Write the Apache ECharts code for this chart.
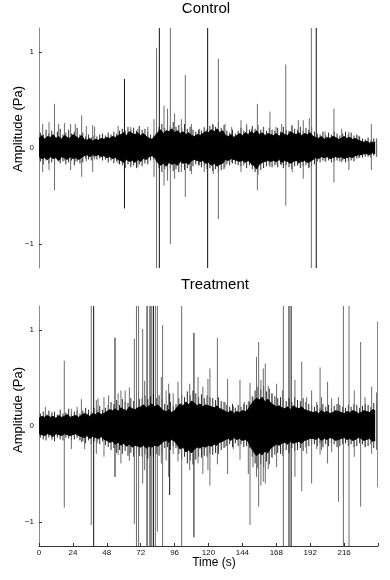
<!DOCTYPE html>
<html>
<head>
<meta charset="utf-8">
<script src="https://cdn.jsdelivr.net/npm/echarts@6/dist/echarts.min.js"></script>
<style>
html,body{margin:0;padding:0;background:#fff;}
#chart{width:390px;height:580px;}
</style>
</head>
<body>
<div id="chart"></div>
<script>
// ---------- DATA ----------
const panelTitles = ['Control', 'Treatment'];
const xTickLabels = [0, 24, 48, 72, 96, 120, 144, 168, 192, 216];
const yTickLabels = [-1, 0, 1];
// envelope bins, every 2 s (0..238); fringe samples sit 1 s after each bin
const binTimes = [0,2,4,6,8,10,12,14,16,18,20,22,24,26,28,30,32,34,36,38,40,42,44,46,48,50,52,54,56,58,60,62,64,66,68,70,72,74,76,78,80,82,84,86,88,90,92,94,96,98,100,102,104,106,108,110,112,114,116,118,120,122,124,126,128,130,132,134,136,138,140,142,144,146,148,150,152,154,156,158,160,162,164,166,168,170,172,174,176,178,180,182,184,186,188,190,192,194,196,198,200,202,204,206,208,210,212,214,216,218,220,222,224,226,228,230,232,234,236,238];

const controlUpper = [
 0.10,0.13,0.09,0.12,0.11,0.14,0.10,0.12,0.09,0.13,0.11,0.10,0.14,0.12,0.10,0.13,
 0.09,0.08,0.10,0.07,0.09,0.08,
 0.10,0.09,0.11,0.10,0.12,0.11,0.13,
 0.14,0.16,0.13,0.17,0.15,0.14,0.16,0.13,0.15,0.12,
 0.10,0.09,0.12,
 0.16,0.19,0.15,0.18,0.17,0.20,0.16,0.18,0.15,0.17,0.14,0.16,0.13,
 0.12,0.14,0.13,0.15,0.17,0.16,
 0.19,0.17,0.20,0.16,0.18,
 0.13,0.12,0.14,0.11,0.13,
 0.15,0.13,0.16,0.14,0.17,0.15,0.18,0.14,0.16,0.13,0.15,0.14,
 0.13,0.15,0.12,0.16,0.14,0.13,0.17,0.15,0.14,0.16,0.13,0.15,0.14,0.16,0.12,
 0.11,0.10,0.12,0.09,0.11,0.10,0.12,0.11,0.09,0.10,0.12,0.10,0.11,0.09,0.10,0.08,
 0.07,0.06,0.07,0.05,0.06,0.06];
const controlLower = [
 -0.09,-0.11,-0.10,-0.12,-0.09,-0.11,-0.10,-0.13,-0.09,-0.10,-0.12,-0.09,-0.11,-0.10,-0.12,-0.10,
 -0.08,-0.07,-0.09,-0.07,-0.08,-0.07,
 -0.09,-0.08,-0.10,-0.09,-0.11,-0.10,-0.12,
 -0.13,-0.15,-0.12,-0.14,-0.13,-0.15,-0.12,-0.14,-0.11,-0.12,
 -0.09,-0.08,-0.10,
 -0.15,-0.18,-0.16,-0.19,-0.15,-0.17,-0.16,-0.18,-0.14,-0.16,-0.15,-0.17,-0.13,
 -0.12,-0.13,-0.14,-0.13,-0.16,-0.15,
 -0.18,-0.16,-0.19,-0.17,-0.16,
 -0.12,-0.13,-0.11,-0.12,-0.13,
 -0.14,-0.13,-0.15,-0.13,-0.16,-0.18,-0.22,-0.17,-0.15,-0.14,-0.13,-0.14,
 -0.13,-0.14,-0.12,-0.15,-0.13,-0.14,-0.16,-0.14,-0.13,-0.15,-0.14,-0.13,-0.15,-0.14,-0.12,
 -0.10,-0.11,-0.09,-0.10,-0.09,-0.11,-0.10,-0.09,-0.10,-0.09,-0.11,-0.10,-0.09,-0.10,-0.08,-0.07,
 -0.07,-0.06,-0.06,-0.07,-0.05,-0.06];
const controlFringeUpper = [
 0.16,0.14,0.19,0.15,0.18,0.13,0.17,0.20,0.14,0.16,0.19,0.15,0.17,0.21,0.14,0.16,
 0.12,0.14,0.11,0.13,0.12,0.14,
 0.15,0.13,0.16,0.14,0.17,0.15,0.18,
 0.20,0.18,0.22,0.19,0.21,0.18,0.23,0.19,0.20,0.17,
 0.14,0.13,0.16,
 0.22,0.25,0.21,0.26,0.23,0.27,0.22,0.24,0.21,0.25,0.20,0.22,0.19,
 0.17,0.19,0.18,0.21,0.20,0.23,
 0.25,0.22,0.27,0.21,0.24,
 0.18,0.16,0.19,0.15,0.18,
 0.21,0.18,0.22,0.19,0.23,0.20,0.24,0.19,0.22,0.18,0.21,0.19,
 0.18,0.21,0.17,0.22,0.19,0.18,0.23,0.20,0.19,0.22,0.18,0.21,0.19,0.22,0.17,
 0.15,0.14,0.17,0.13,0.16,0.14,0.17,0.15,0.13,0.15,0.17,0.14,0.16,0.13,0.14,0.12,
 0.10,0.09,0.11,0.08,0.10,0.09];
const controlFringeLower = [
 -0.14,-0.17,-0.13,-0.16,-0.15,-0.18,-0.13,-0.16,-0.14,-0.17,-0.15,-0.13,-0.18,-0.14,-0.16,-0.15,
 -0.11,-0.12,-0.13,-0.10,-0.12,-0.11,
 -0.13,-0.12,-0.15,-0.13,-0.16,-0.14,-0.17,
 -0.18,-0.21,-0.17,-0.20,-0.18,-0.21,-0.17,-0.19,-0.16,-0.17,
 -0.13,-0.12,-0.15,
 -0.21,-0.25,-0.22,-0.26,-0.21,-0.24,-0.22,-0.25,-0.20,-0.23,-0.21,-0.24,-0.19,
 -0.17,-0.18,-0.20,-0.18,-0.22,-0.21,
 -0.24,-0.22,-0.26,-0.23,-0.22,
 -0.17,-0.18,-0.16,-0.17,-0.18,
 -0.19,-0.18,-0.21,-0.18,-0.22,-0.25,-0.28,-0.23,-0.21,-0.19,-0.18,-0.20,
 -0.18,-0.20,-0.17,-0.21,-0.18,-0.20,-0.22,-0.19,-0.18,-0.21,-0.19,-0.18,-0.21,-0.19,-0.17,
 -0.14,-0.15,-0.13,-0.14,-0.13,-0.15,-0.14,-0.13,-0.14,-0.13,-0.15,-0.14,-0.13,-0.14,-0.11,-0.10,
 -0.10,-0.09,-0.09,-0.10,-0.08,-0.09];

const treatmentUpper = [
 0.08,0.10,0.09,0.11,0.09,0.10,0.08,0.11,0.09,0.10,0.12,0.09,0.10,0.11,0.09,
 0.11,0.13,0.12,0.10,0.13,0.12,0.14,0.12,0.13,
 0.15,0.17,0.16,0.18,0.15,0.19,0.17,0.16,0.20,0.18,0.17,0.19,
 0.20,0.22,0.19,0.21,0.23,0.20,0.22,0.19,
 0.16,0.15,0.17,0.14,0.16,
 0.20,0.23,0.21,0.25,0.22,0.26,0.24,0.21,0.23,0.20,0.22,0.21,
 0.20,0.19,0.21,0.18,0.17,
 0.15,0.14,0.16,0.13,0.15,0.14,0.16,0.15,0.17,
 0.22,0.26,0.29,0.27,0.30,0.25,0.28,0.24,0.22,0.20,0.21,0.19,
 0.18,0.20,0.17,0.21,0.19,0.18,0.20,0.17,0.16,0.15,
 0.14,0.15,0.13,0.16,0.14,0.15,0.13,0.14,0.16,0.15,0.14,0.13,0.15,0.14,0.16,0.15,0.13,0.14,0.16,0.15,0.14,0.17,0.16];
const treatmentLower = [
 -0.08,-0.09,-0.10,-0.08,-0.09,-0.11,-0.08,-0.09,-0.10,-0.08,-0.09,-0.10,-0.09,-0.08,-0.10,
 -0.11,-0.12,-0.10,-0.13,-0.11,-0.12,-0.13,-0.11,-0.14,
 -0.15,-0.17,-0.16,-0.19,-0.17,-0.20,-0.18,-0.21,-0.19,-0.22,-0.20,-0.21,
 -0.22,-0.20,-0.23,-0.21,-0.22,-0.20,-0.21,-0.19,
 -0.16,-0.15,-0.17,-0.14,-0.16,
 -0.20,-0.24,-0.22,-0.27,-0.25,-0.28,-0.24,-0.22,-0.23,-0.21,-0.22,-0.20,
 -0.21,-0.19,-0.20,-0.17,-0.16,
 -0.14,-0.13,-0.15,-0.12,-0.14,-0.13,-0.15,-0.14,-0.16,
 -0.22,-0.27,-0.31,-0.28,-0.30,-0.26,-0.28,-0.23,-0.21,-0.19,-0.20,-0.18,
 -0.17,-0.19,-0.16,-0.18,-0.17,-0.16,-0.18,-0.15,-0.14,-0.13,
 -0.13,-0.14,-0.12,-0.15,-0.13,-0.14,-0.12,-0.13,-0.15,-0.14,-0.13,-0.12,-0.14,-0.13,-0.15,-0.14,-0.12,-0.13,-0.15,-0.14,-0.13,-0.16,-0.15];
const treatmentFringeUpper = [
 0.13,0.15,0.12,0.16,0.13,0.15,0.12,0.17,0.13,0.14,0.18,0.13,0.15,0.16,0.13,
 0.16,0.19,0.17,0.15,0.19,0.17,0.21,0.17,0.19,
 0.22,0.25,0.23,0.27,0.22,0.28,0.25,0.24,0.29,0.26,0.25,0.28,
 0.29,0.32,0.28,0.31,0.33,0.29,0.32,0.28,
 0.23,0.22,0.25,0.21,0.23,
 0.29,0.33,0.30,0.36,0.32,0.37,0.34,0.30,0.33,0.29,0.32,0.30,
 0.29,0.27,0.30,0.26,0.25,
 0.22,0.20,0.23,0.19,0.22,0.20,0.23,0.22,0.25,
 0.31,0.37,0.41,0.38,0.42,0.36,0.39,0.34,0.31,0.29,0.30,0.27,
 0.26,0.29,0.25,0.30,0.27,0.26,0.29,0.25,0.23,0.22,
 0.20,0.22,0.19,0.23,0.20,0.22,0.19,0.21,0.23,0.22,0.20,0.19,0.22,0.20,0.23,0.22,0.19,0.21,0.23,0.22,0.20,0.24,0.23];
const treatmentFringeLower = [
 -0.12,-0.14,-0.15,-0.12,-0.13,-0.16,-0.12,-0.14,-0.15,-0.12,-0.13,-0.15,-0.14,-0.12,-0.15,
 -0.16,-0.18,-0.15,-0.19,-0.16,-0.18,-0.19,-0.16,-0.20,
 -0.22,-0.25,-0.23,-0.28,-0.25,-0.29,-0.26,-0.31,-0.28,-0.32,-0.29,-0.31,
 -0.32,-0.29,-0.34,-0.31,-0.32,-0.29,-0.31,-0.28,
 -0.23,-0.22,-0.25,-0.21,-0.23,
 -0.29,-0.35,-0.32,-0.39,-0.36,-0.40,-0.35,-0.32,-0.33,-0.31,-0.32,-0.29,
 -0.30,-0.28,-0.29,-0.25,-0.23,
 -0.21,-0.19,-0.22,-0.18,-0.21,-0.19,-0.22,-0.21,-0.23,
 -0.32,-0.39,-0.44,-0.40,-0.43,-0.37,-0.40,-0.33,-0.30,-0.28,-0.29,-0.26,
 -0.25,-0.28,-0.23,-0.26,-0.25,-0.23,-0.26,-0.22,-0.21,-0.19,
 -0.19,-0.21,-0.18,-0.22,-0.19,-0.21,-0.18,-0.19,-0.22,-0.21,-0.19,-0.18,-0.21,-0.19,-0.22,-0.21,-0.18,-0.19,-0.22,-0.21,-0.19,-0.23,-0.22];

// spikes: [time s, top Pa, bottom Pa, dark(1)/grey(0)]
const controlSpikes = [
 [2.6,0.25,-0.25,0],[7.1,0.27,-0.23,0],[11.0,0.46,-0.44,0],[13.9,0.25,-0.14,0],[18.0,0.26,-0.13,0],
 [22.4,0.25,-0.23,0],[25.7,0.25,-0.14,0],[30.2,0.34,-0.30,0],[33.5,0.23,-0.14,0],[38.0,0.24,-0.25,0],
 [39.4,0.22,-0.12,0],[56.0,0.23,-0.16,0],[60.5,0.72,-0.63,1],[65.0,0.22,-0.17,0],[70.0,0.20,-0.20,0],
 [77.0,0.22,-0.15,0],[81.4,0.30,-0.30,0],[83.2,1.04,-1.25,0],[85.2,1.25,-1.25,1],[88.5,0.44,-0.39,0],
 [91.0,0.41,-0.34,0],[93.0,1.25,-1.00,0],[96.0,0.36,-0.32,0],[100.8,0.30,-0.25,0],[103.6,0.76,-0.51,0],
 [108.0,0.25,-0.27,0],[113.7,0.20,-0.18,0],[117.0,0.22,-0.25,0],[119.4,1.25,-1.25,1],[123.4,0.24,-0.27,0],
 [127.0,0.93,-0.74,0],[131.7,0.25,-0.20,0],[136.4,0.22,-0.15,0],[143.0,0.29,-0.25,0],[147.0,0.25,-0.16,0],
 [150.5,0.20,-0.18,0],[154.6,0.46,-0.44,0],[158.8,0.22,-0.16,0],[163.5,0.38,-0.20,0],[167.8,0.22,-0.17,0],
 [171.8,0.25,-0.18,0],[174.7,0.87,-0.60,0],[179.3,0.24,-0.25,0],[183.6,0.29,-0.17,0],[187.1,0.29,-0.32,0],
 [191.4,0.31,-0.20,0],[192.8,1.25,-1.25,0],[196.3,1.25,-1.25,1],[202.5,0.17,-0.14,0],[208.8,0.41,-0.36,0],
 [214.3,0.20,-0.15,0],[219.4,0.17,-0.23,0],[226.0,0.13,-0.10,0],[235.3,0.25,-0.23,0],[239.0,0.10,-0.08,0]];

const treatmentSpikes = [
 [4.5,0.20,-0.10,0],[9.2,0.15,-0.15,0],[17.9,0.68,-0.85,0],[22.9,0.18,-0.24,0],[27.0,0.20,-0.12,0],
 [30.0,0.28,-0.17,0],[32.3,0.12,-0.24,0],[37.0,1.25,-1.03,0],[38.7,1.25,-1.25,1],[40.6,0.27,-0.29,0],
 [41.8,0.29,-0.15,0],[46.0,0.30,-0.32,0],[49.3,0.32,-0.18,0],[53.8,0.92,-0.53,1],[56.0,0.34,-0.30,0],
 [58.0,0.37,-0.39,0],[61.0,0.37,-0.20,0],[64.0,0.40,-0.36,0],[67.5,0.91,-1.02,0],[69.0,1.25,-1.25,0],
 [70.5,1.25,-1.25,0],[73.4,1.01,-0.60,0],[74.8,0.47,-0.46,0],[76.5,1.25,-1.25,1],[78.6,1.25,-1.25,1],
 [79.8,1.25,-1.25,0],[81.0,1.25,-1.25,1],[82.4,1.25,-1.25,0],[83.8,1.25,-1.10,0],[86.6,0.51,-0.39,0],
 [87.5,1.05,-1.25,0],[90.0,0.37,-0.36,0],[91.8,0.44,-0.53,0],[92.5,0.34,-0.72,1],[95.0,0.34,-0.29,0],
 [98.4,0.46,-0.37,0],[101.0,1.25,-1.25,0],[106.7,0.44,-0.46,0],[109.7,0.97,-1.16,1],[112.6,0.51,-0.39,0],
 [116.0,0.41,-0.50,0],[119.6,0.49,-0.46,0],[121.0,0.60,-0.62,0],[126.3,0.92,-0.40,0],[131.7,0.25,-0.22,0],
 [133.5,0.49,-0.50,0],[137.6,0.21,-0.24,0],[142.3,0.48,-0.35,0],[145.4,0.25,-0.15,0],[148.2,0.26,-0.50,0],
 [149.4,0.45,-1.03,0],[151.5,0.30,-0.43,0],[154.0,0.72,-0.53,0],[155.5,0.875,-0.84,0],[157.1,0.48,-0.62,0],
 [158.8,0.60,-0.58,0],[160.2,0.65,-0.60,0],[162.3,0.42,-0.45,0],[164.7,0.34,-0.32,0],[168.2,0.44,-0.43,0],
 [172.3,0.37,-0.31,0],[173.0,1.25,-1.25,0],[177.0,1.25,-1.25,1],[178.5,1.25,-1.25,1],[181.2,0.48,-0.53,0],
 [186.0,0.67,-0.68,0],[189.5,0.30,-0.29,0],[193.0,0.37,-0.60,0],[196.6,0.25,-0.24,0],[199.0,0.61,-0.30,0],
 [200.0,0.30,-0.25,0],[204.3,0.46,-0.39,0],[207.2,0.29,-0.27,0],[212.0,0.30,-0.79,0],[215.5,1.25,-1.25,0],
 [219.5,1.25,-1.25,0],[223.2,0.37,-0.32,0],[227.7,0.875,-0.84,0],[230.8,0.30,-0.22,0],[235.5,0.41,-0.29,0],
 [239.0,0.35,-0.25,0],[239.8,1.09,-0.64,0]];

// ---------- CHART ----------
const FONT = "'Liberation Sans', Arial, sans-serif";
const chart = echarts.init(document.getElementById('chart'), null, {renderer: 'canvas'});

function envelopeData(vals) { return binTimes.map((t, i) => [t, vals[i]]); }
function fringeData(up, lo) { return binTimes.map((t, i) => [t + 1, up[i], lo[i], 2]); }

const SPIKE_COLORS = ['#6c6c6c', '#111111', '#2a2a2a'];
function spikeRender(params, api) {
  const t = api.value(0), hi = api.value(1), lo = api.value(2), kind = api.value(3);
  const p1 = api.coord([t, hi]);
  const p2 = api.coord([t, lo]);
  return {
    type: 'line',
    shape: {x1: p1[0], y1: p1[1], x2: p2[0], y2: p2[1]},
    style: {stroke: SPIKE_COLORS[kind], lineWidth: 1}
  };
}

const grids = [
  {left: 39, right: 12, top: 28, height: 240},
  {left: 39, right: 12, top: 306, height: 240}
];

function makeX(idx, showLabels) {
  return {
    type: 'value', gridIndex: idx, min: 0, max: 240, interval: 24,
    axisLine: {show: showLabels, onZero: false, lineStyle: {color: '#333', width: 1}},
    axisTick: {show: showLabels, inside: true, length: 3, lineStyle: {color: '#333'}},
    axisLabel: {
      show: showLabels, color: '#111', fontSize: 8, fontFamily: FONT, margin: 3,
      formatter: v => (xTickLabels.indexOf(v) >= 0 ? String(v) : '')
    },
    splitLine: {show: false}
  };
}
function makeY(idx) {
  return {
    type: 'value', gridIndex: idx, min: -1.25, max: 1.25,
    axisLine: {show: true, onZero: false, lineStyle: {color: '#8a8a8a', width: 1}},
    axisTick: {show: true, inside: true, length: 3, customValues: yTickLabels, lineStyle: {color: '#333'}},
    axisLabel: {show: true, customValues: yTickLabels, color: '#111', fontSize: 8, fontFamily: FONT, margin: 5,
      formatter: v => (v < 0 ? '\u2212' + Math.abs(v) : String(v))},
    splitLine: {show: false}
  };
}

function envelopeSeries(idx, vals) {
  return {
    type: 'line', xAxisIndex: idx, yAxisIndex: idx, data: envelopeData(vals),
    showSymbol: false, symbol: 'none', silent: true, z: 3,
    lineStyle: {color: '#000', width: 1},
    areaStyle: {color: '#000', opacity: 1, origin: 0}
  };
}
function spikeSeries(idx, spikes) {
  return {
    type: 'custom', xAxisIndex: idx, yAxisIndex: idx, data: spikes,
    renderItem: spikeRender, encode: {x: 0, y: [1, 2]}, clip: true, silent: true, z: 2
  };
}

const titleStyle = {fontFamily: FONT, fontSize: 15, fontWeight: 'normal', color: '#000'};
const option = {
  animation: false,
  backgroundColor: '#fff',
  title: [
    {text: panelTitles[0], left: 206, top: 1, padding: 0, textAlign: 'center', textStyle: titleStyle},
    {text: panelTitles[1], left: 215, top: 277, padding: 0, textAlign: 'center', textStyle: titleStyle}
  ],
  grid: grids,
  xAxis: [makeX(0, false), makeX(1, true)],
  yAxis: [makeY(0), makeY(1)],
  graphic: [
    {type: 'text', x: 18, y: 129, rotation: Math.PI / 2,
     style: {text: 'Amplitude (Pa)', fontFamily: FONT, fontSize: 13, fill: '#000', align: 'center', verticalAlign: 'middle'}},
    {type: 'text', x: 18, y: 410, rotation: Math.PI / 2,
     style: {text: 'Amplitude (Pa)', fontFamily: FONT, fontSize: 13, fill: '#000', align: 'center', verticalAlign: 'middle'}},
    {type: 'text', x: 214, y: 563,
     style: {text: 'Time (s)', fontFamily: FONT, fontSize: 12, fill: '#000', align: 'center', verticalAlign: 'middle'}}
  ],
  series: [
    spikeSeries(0, fringeData(controlFringeUpper, controlFringeLower)),
    spikeSeries(0, controlSpikes),
    envelopeSeries(0, controlUpper),
    envelopeSeries(0, controlLower),
    spikeSeries(1, fringeData(treatmentFringeUpper, treatmentFringeLower)),
    spikeSeries(1, treatmentSpikes),
    envelopeSeries(1, treatmentUpper),
    envelopeSeries(1, treatmentLower)
  ]
};
chart.setOption(option);
</script>
</body>
</html>
